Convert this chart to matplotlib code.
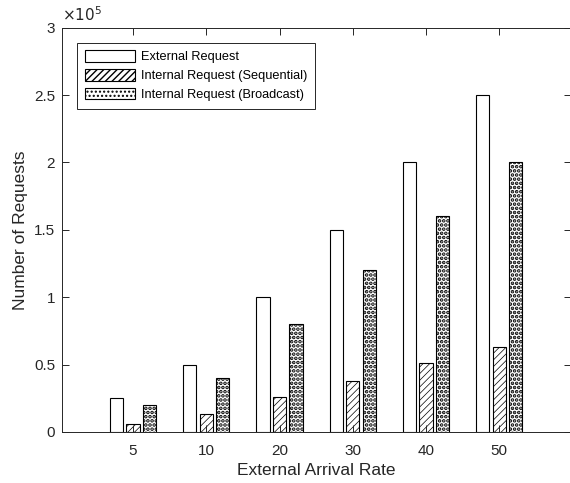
#!/usr/bin/env python3
"""grouped bar chart of request counts per arrival rate"""
import numpy as np
import matplotlib.pyplot as plt
import matplotlib as mpl

mpl.rcParams['font.family'] = ['Liberation Sans', 'DejaVu Sans']

rates = ['5', '10', '20', '30', '40', '50']
external = [0.25, 0.5, 1.0, 1.5, 2.0, 2.5]
sequential = [0.063, 0.13, 0.26, 0.38, 0.51, 0.63]
broadcast = [0.2, 0.4, 0.8, 1.2, 1.6, 2.0]
labels = ['External Request', 'Internal Request (Sequential)',
          'Internal Request (Broadcast)']

fig = plt.figure(figsize=(5.7, 4.83), dpi=100)
# right edge of the box sits on the picture's edge, as in the original
ax = fig.add_axes([0.1088, 0.1056, 0.893, 0.837])

x = np.arange(1, len(rates) + 1)
w = 0.18
off = 0.225
ax.bar(x - off, external, w, color='white', edgecolor='black',
       linewidth=0.8, label=labels[0])
with plt.rc_context({'hatch.linewidth': 0.5, 'hatch.color': '#333333'}):
    ax.bar(x, sequential, w, color='white', edgecolor='black',
           linewidth=0.8, hatch='/////', label=labels[1])
with plt.rc_context({'hatch.linewidth': 1.8, 'hatch.color': 'black'}):
    ax.bar(x + off, broadcast, w, color='white', edgecolor='black',
           linewidth=0.8, hatch='....', label=labels[2])

ax.set_xlim(0.03, 6.98)
ax.set_ylim(0, 3)
ax.set_xticks(x)
ax.set_xticklabels(rates)
ax.set_yticks(np.arange(0, 3.01, 0.5))
ax.set_yticklabels(['0', '0.5', '1', '1.5', '2', '2.5', '3'])
ax.tick_params(direction='in', top=True, right=True, length=5,
               width=0.7, labelsize=11, colors='#262626')
ax.tick_params(axis='x', pad=9)
ax.tick_params(axis='y', pad=5)
for s in ax.spines.values():
    s.set_color('#262626')
    s.set_linewidth(0.7)
ax.spines['right'].set_visible(False)

ax.text(0, 1.008, r'$\times10^{5}$', transform=ax.transAxes,
        fontsize=11, color='#262626', va='bottom', ha='left')
ax.set_xlabel('External Arrival Rate', fontsize=12.5, color='#262626',
              labelpad=3)
ax.set_ylabel('Number of Requests', fontsize=12.5, color='#262626')

leg = ax.legend(loc='upper left', bbox_to_anchor=(0.0295, 0.963),
                borderaxespad=0, fontsize=9.2, handlelength=3.9,
                handleheight=1.0, borderpad=0.6, labelspacing=0.45,
                handletextpad=0.5, fancybox=False, framealpha=1,
                edgecolor='#262626')
leg.get_frame().set_linewidth(0.7)

fig.savefig('out.png', dpi=100)
